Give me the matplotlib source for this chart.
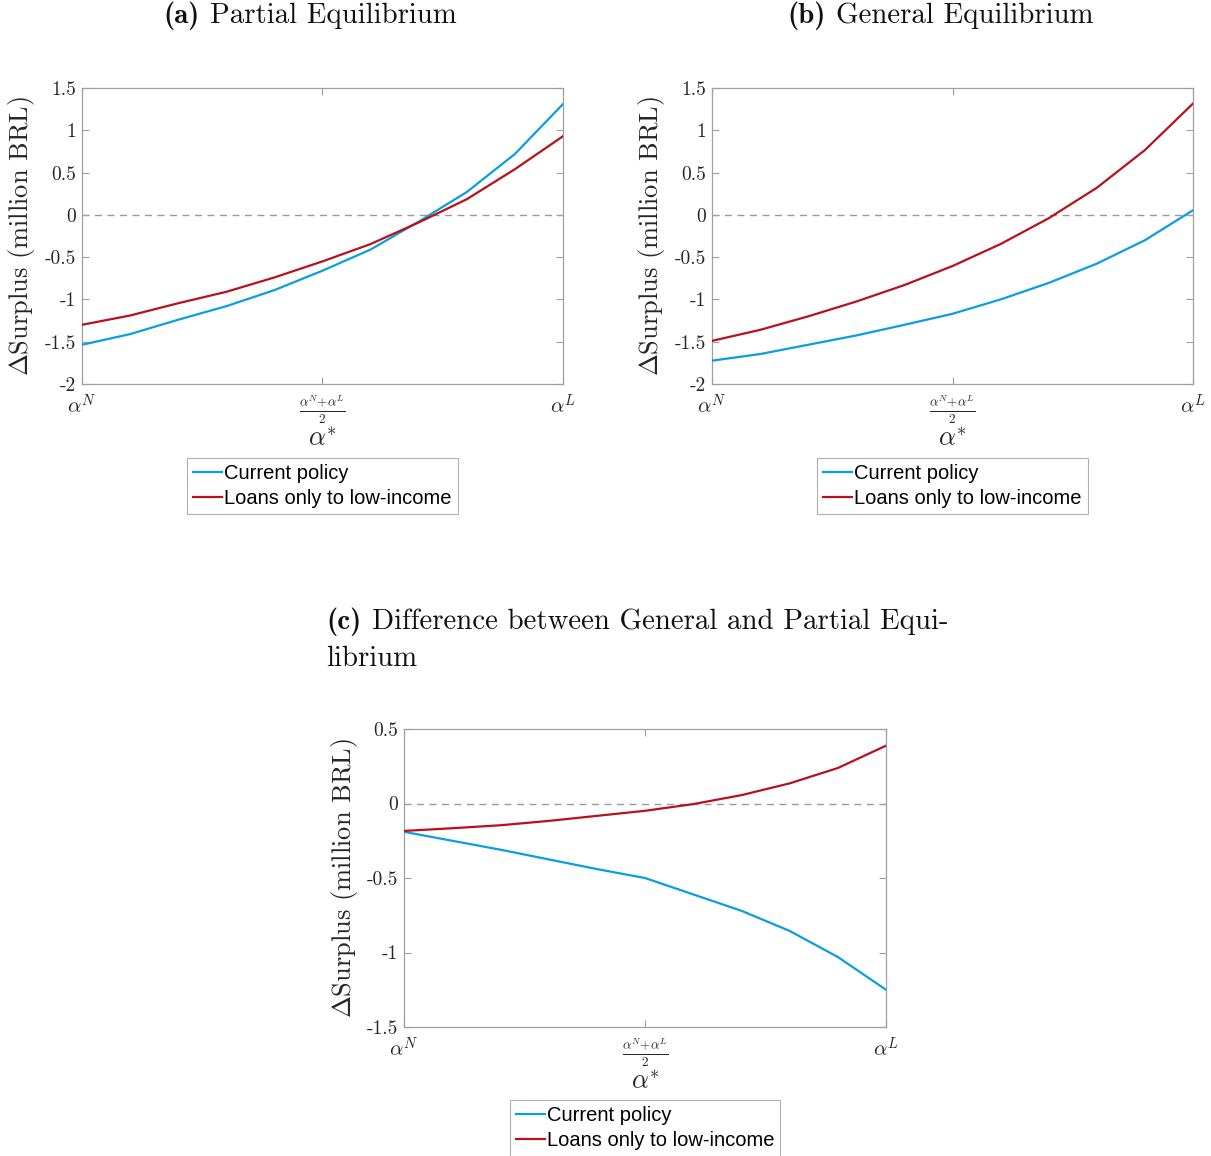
import numpy as np
import matplotlib
matplotlib.use("Agg")
import matplotlib.pyplot as plt

plt.rcParams['font.family'] = ['cmr10', 'DejaVu Serif']
plt.rcParams['mathtext.fontset'] = 'cm'
plt.rcParams['axes.unicode_minus'] = False

# ---- data ----
alpha_grid = [0.0, 0.1, 0.2, 0.3, 0.4, 0.5, 0.6, 0.7, 0.8, 0.9, 1.0]

pe_current = [-1.536, -1.41, -1.24, -1.08, -0.89, -0.66, -0.41, -0.08, 0.27, 0.72, 1.31]
pe_lowinc = [-1.30, -1.19, -1.045, -0.91, -0.74, -0.55, -0.345, -0.09, 0.185, 0.54, 0.93]

ge_current = [-1.724, -1.646, -1.536, -1.426, -1.30, -1.17, -1.00, -0.805, -0.577, -0.30, 0.055]
ge_lowinc = [-1.49, -1.36, -1.20, -1.025, -0.83, -0.605, -0.345, -0.04, 0.32, 0.766, 1.316]

diff_current = [-0.19, -0.25, -0.31, -0.375, -0.44, -0.50, -0.61, -0.72, -0.855, -1.03, -1.25]
diff_lowinc = [-0.184, -0.166, -0.146, -0.117, -0.083, -0.049, -0.004, 0.056, 0.135, 0.238, 0.388]

series_names = ["Current policy", "Loans only to low-income"]

xtick_pos = [0.0, 0.5, 1.0]
xtick_labels = [r"$\alpha^N$", r"$\frac{\alpha^N\!+\!\alpha^L}{2}$", r"$\alpha^L$"]

yticks_ab = [-2, -1.5, -1, -0.5, 0, 0.5, 1, 1.5]
ytick_labels_ab = ["-2", "-1.5", "-1", "-0.5", "0", "0.5", "1", "1.5"]
yticks_c = [-1.5, -1, -0.5, 0, 0.5]
ytick_labels_c = ["-1.5", "-1", "-0.5", "0", "0.5"]

title_tags = ["(a)", "(b)", "(c)"]
title_texts = ["Partial Equilibrium", "General Equilibrium",
               "Difference between General and Partial Equi-"]
title_c_line2 = "librium"
ylabel = r"$\Delta$Surplus (million BRL)"
xlabel = r"$\alpha^{*}$"

# ---- style ----
W, H = 1211, 1156
BLUE = '#0a9ee0'
RED = '#b8101c'
SPINE = '#a0a0a0'
TXT = '#262626'
TFS = 20.8

fig = plt.figure(figsize=(W / 100, H / 100), dpi=100)


def make_axes(l, r, t, b):
    return fig.add_axes([l / W, 1 - b / H, (r - l) / W, (b - t) / H])


def style(ax, yticks, ylabels, ylim):
    ax.set_xlim(0, 1)
    ax.set_ylim(*ylim)
    ax.axhline(0, color='#999999', lw=1.0, ls=(0, (5, 4)), zorder=1)
    ax.set_xticks(xtick_pos)
    labs = ax.set_xticklabels(xtick_labels, fontsize=15)
    labs[1].set_fontsize(13.5)
    ax.set_yticks(yticks)
    ax.set_yticklabels(ylabels, fontsize=14)
    for s in ax.spines.values():
        s.set_color(SPINE)
        s.set_linewidth(0.9)
    ax.tick_params(direction='in', length=5, width=0.8, color=SPINE,
                   top=True, right=True, labelcolor=TXT)
    ax.tick_params(axis='y', pad=4.5)
    ax.tick_params(axis='x', pad=7)
    ax.set_ylabel(ylabel, fontsize=19, color=TXT)
    ax.set_xlabel(xlabel, fontsize=19, color=TXT)


def add_legend(ax, yoff):
    leg = ax.legend(series_names, loc='upper center', bbox_to_anchor=(0.5, yoff),
                    borderaxespad=0, fancybox=False, framealpha=1,
                    edgecolor='#b0b0b0', handlelength=1.45, handletextpad=0.1,
                    borderpad=0.3, labelspacing=0.28,
                    prop={'family': 'Liberation Sans', 'size': 14.5})
    leg.get_frame().set_linewidth(0.8)


axA = make_axes(82, 563, 88, 384)
axA.plot(alpha_grid, pe_current, color=BLUE, lw=1.6, zorder=3)
axA.plot(alpha_grid, pe_lowinc, color=RED, lw=1.6, zorder=3)
style(axA, yticks_ab, ytick_labels_ab, (-2, 1.5))
axA.yaxis.set_label_coords(-0.094, 0.5)
axA.xaxis.set_label_coords(0.5, -0.145)
add_legend(axA, -0.25)

axB = make_axes(712, 1193, 88, 384)
axB.plot(alpha_grid, ge_current, color=BLUE, lw=1.6, zorder=3)
axB.plot(alpha_grid, ge_lowinc, color=RED, lw=1.6, zorder=3)
style(axB, yticks_ab, ytick_labels_ab, (-2, 1.5))
axB.yaxis.set_label_coords(-0.094, 0.5)
axB.xaxis.set_label_coords(0.5, -0.145)
add_legend(axB, -0.25)

axC = make_axes(404, 886, 729, 1027)
axC.plot(alpha_grid, diff_current, color=BLUE, lw=1.6, zorder=3)
axC.plot(alpha_grid, diff_lowinc, color=RED, lw=1.6, zorder=3)
style(axC, yticks_c, ytick_labels_c, (-1.5, 0.5))
axC.yaxis.set_label_coords(-0.091, 0.5)
axC.xaxis.set_label_coords(0.5, -0.144)
add_legend(axC, -0.245)

renderer = fig.canvas.get_renderer()


def title(tag, text, x_left, y_base):
    t1 = fig.text(x_left / W, 1 - y_base / H, tag, fontsize=TFS, family='cmb10',
                  ha='left', va='baseline', color='#111111')
    bb = t1.get_window_extent(renderer)
    gap = TFS * 1.389 * 0.36
    fig.text((bb.x1 + gap) / W, 1 - y_base / H, text, fontsize=TFS,
             ha='left', va='baseline', color='#111111')


title(title_tags[0], title_texts[0], 163, 23)
title(title_tags[1], title_texts[1], 787, 23)
title(title_tags[2], title_texts[2], 326, 629)
fig.text(326 / W, 1 - 666 / H, title_c_line2, fontsize=TFS, ha='left', va='baseline',
         color='#111111')

fig.savefig("out.png", dpi=100)
